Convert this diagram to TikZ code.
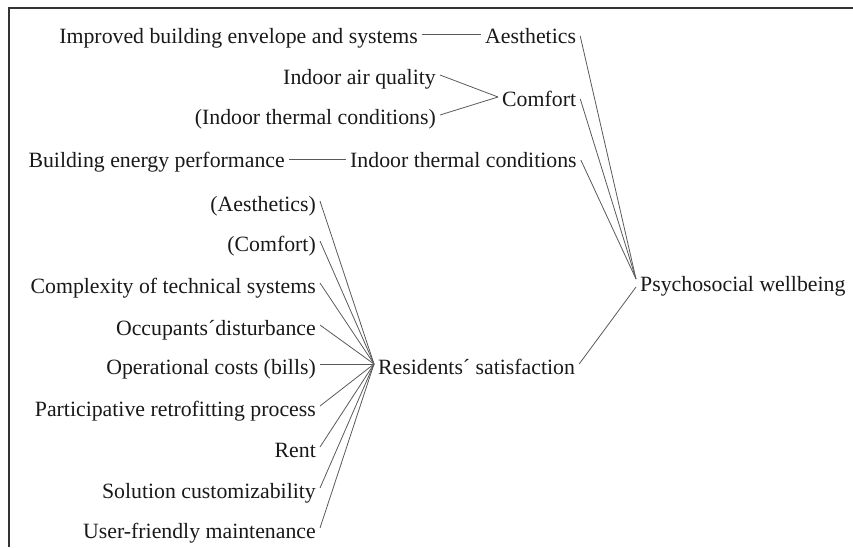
\documentclass[tikz,border=0pt]{standalone}
\usepackage{fontspec}
\setmainfont{Liberation Serif}
\begin{document}
\begin{tikzpicture}[x=1pt,y=-1pt,
  lbl/.style={inner xsep=4pt,inner ysep=0pt,font=\fontsize{21.8}{24}\selectfont,text=black!90},
  link/.style={draw=black!65,line width=0.8pt},
  frameline/.style={draw=black!80,line width=2pt}]
\useasboundingbox (0,0) rectangle (853,547);
\draw[frameline] (9,547) -- (9,8) -- (853,8);

% upper branch (positions are text baselines)
\node[lbl,anchor=base east] (imp) at (422,43) {Improved building envelope and systems};
\node[lbl,anchor=base west] (aes) at (481,43) {Aesthetics};
\node[lbl,anchor=base east] (iaq) at (440,84) {Indoor air quality};
\node[lbl,anchor=base east] (itcb) at (440,124) {(Indoor thermal conditions)};
\node[lbl,anchor=base west] (com) at (498,106) {Comfort};
\node[lbl,anchor=base east] (bep) at (289,167) {Building energy performance};
\node[lbl,anchor=base west] (itc) at (346,167) {Indoor thermal conditions};

% lower branch
\node[lbl,anchor=base east] (aesb) at (320,211) {(Aesthetics)};
\node[lbl,anchor=base east] (comb) at (320,251) {(Comfort)};
\node[lbl,anchor=base east] (cts) at (320,293) {Complexity of technical systems};
\node[lbl,anchor=base east] (odi) at (320,335) {Occupants´disturbance};
\node[lbl,anchor=base east] (opc) at (320,374) {Operational costs (bills)};
\node[lbl,anchor=base east] (prp) at (320,416) {Participative retrofitting process};
\node[lbl,anchor=base east] (ren) at (320,457) {Rent};
\node[lbl,anchor=base east] (sol) at (320,498) {Solution customizability};
\node[lbl,anchor=base east] (ufm) at (320,538) {User-friendly maintenance};
\node[lbl,anchor=base west] (res) at (374,374) {Residents´ satisfaction};

\node[lbl,anchor=base west] (psy) at (636,291) {Psychosocial wellbeing};

% connectors, attached near the top of the lower-case letters
\draw[link] ([yshift=9pt]imp.base east) -- ([yshift=9pt]aes.base west);
\draw[link] ([yshift=9pt]iaq.base east) -- ([yshift=9pt]com.base west);
\draw[link] ([yshift=9pt]itcb.base east) -- ([yshift=9pt]com.base west);
\draw[link] ([yshift=8pt]bep.base east) -- ([yshift=8pt]itc.base west);
\foreach \n in {aesb,comb,cts,odi,opc,prp,ren,sol,ufm}
  \draw[link] ([yshift=10pt]\n.base east) -- ([yshift=10pt]res.base west);
\foreach \n in {aes,com,itc}
  \draw[link] ([yshift=7pt]\n.base east) -- ([yshift=12pt]psy.base west);
\draw[link] ([yshift=10pt]res.base east) -- ([yshift=4pt]psy.base west);
\end{tikzpicture}
\end{document}
